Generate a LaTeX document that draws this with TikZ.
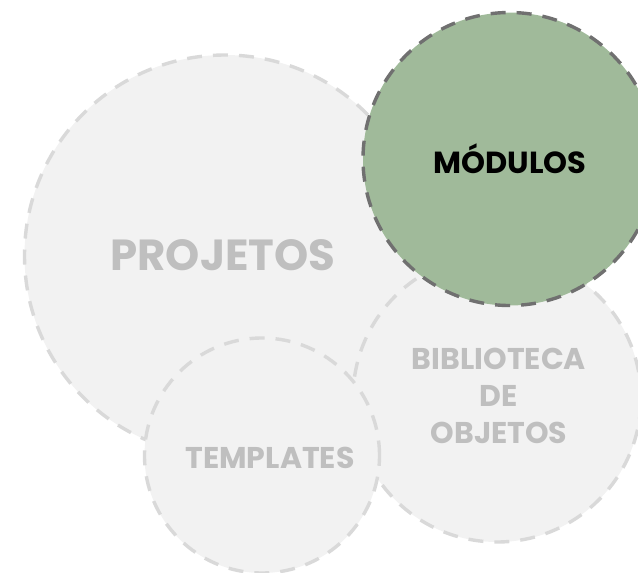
\documentclass[tikz,border=0pt]{standalone}
\usepackage{fontspec}
\setmainfont{Poppins}
\definecolor{lightfill}{HTML}{F2F2F2}
\definecolor{lightline}{HTML}{D9D9D9}
\definecolor{greyt}{HTML}{BFBFBF}
\definecolor{greenfill}{HTML}{A0BA9A}
\definecolor{darkline}{HTML}{707070}
\tikzset{
  px/.style={x=1pt,y=-1pt},
  bub/.style={circle,inner sep=0pt,fill=lightfill,draw=lightline,line width=3.4pt,dash pattern=on 15pt off 11pt},
  mod/.style={circle,inner sep=0pt,fill=greenfill,draw=darkline,line width=3.4pt,dash pattern=on 15pt off 11pt},
  lab/.style={text=greyt,align=center,inner sep=0pt}
}
\begin{document}
\begin{tikzpicture}[px]
\useasboundingbox (0,0) rectangle (638,573);
\node[bub,minimum size=401pt] (proj) at (225,255.5) {};
\node[bub,minimum size=288pt] (bib) at (497,398) {};
\node[bub,minimum size=235pt] (temp) at (262,455.5) {};
\node[mod,minimum size=293pt] (modu) at (509.5,159) {};
\node[lab,font=\bfseries\fontsize{43.5}{48}\selectfont] (t1) at (223,255) {PROJETOS};
\node[lab,font=\bfseries\fontsize{30}{37}\selectfont] (t2) at (499,395.5) {BIBLIOTECA\\DE\\OBJETOS};
\node[lab,font=\bfseries\fontsize{30}{36}\selectfont] (t3) at (270,457.5) {TEMPLATES};
\node[lab,text=black,font=\bfseries\fontsize{30.5}{36}\selectfont] (t4) at (510,158.5) {MÓDULOS};
\end{tikzpicture}
\end{document}
